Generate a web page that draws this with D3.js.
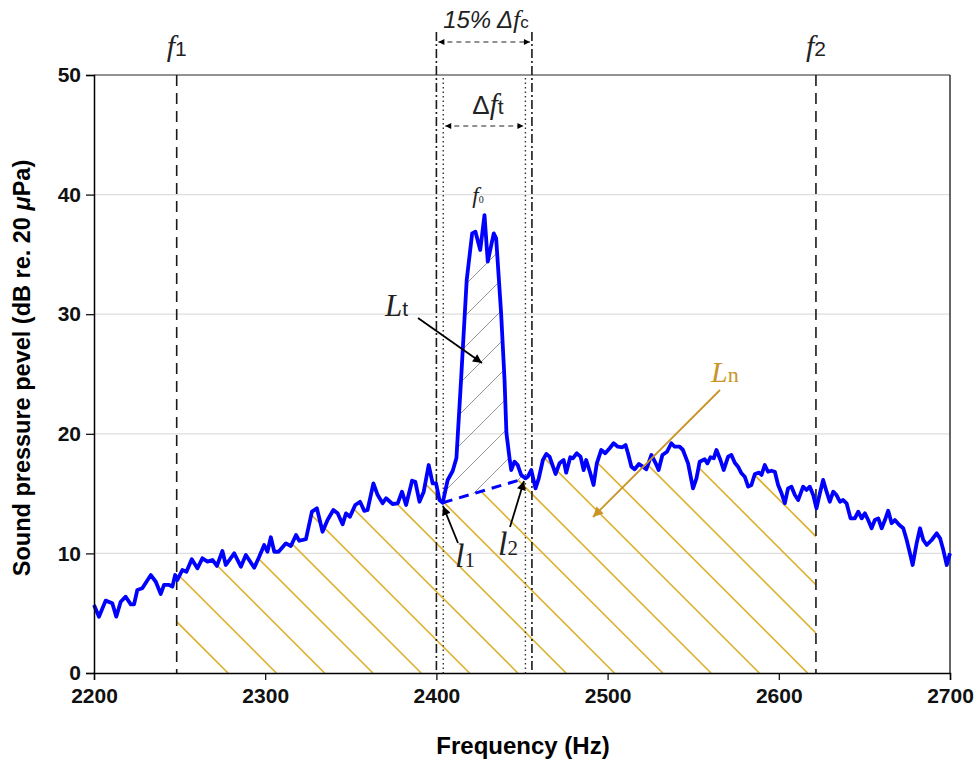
<!DOCTYPE html>
<html>
<head>
<meta charset="utf-8">
<script src="https://cdn.jsdelivr.net/npm/d3@7"></script>
<style>
  body { margin: 0; background: #fff; }
  svg { display: block; }
</style>
</head>
<body>
<div class="canvas"></div>
<script>
// spectrum (Hz, dB)
const freq = [2200, 2202.9, 2206.8, 2210.7, 2213.0, 2215.6, 2218.5, 2221.5, 2223.4, 2225.3, 2228.2, 2233.2, 2236.1, 2239.0, 2240.9, 2243.9, 2245.8, 2247.4, 2248.7, 2251.6,
  2254.0, 2257.1, 2260.4, 2263.3, 2266.3, 2269.2, 2271.8, 2275.0, 2277.0, 2281.9, 2285.8, 2288.7, 2293.6, 2296.5, 2299.4, 2301.3, 2303.3, 2305.3, 2307.8, 2312.1,
  2315.0, 2318.0, 2319.9, 2323.8, 2327.3, 2330.2, 2333.5, 2336.4, 2339.8, 2342.3, 2345.2, 2347.2, 2349.5, 2352.6, 2355.4, 2357.9, 2359.8, 2363.2, 2365.7, 2368.6,
  2370.6, 2374.4, 2377.4, 2379.9, 2382.3, 2385.8, 2387.7, 2390.1, 2392.6, 2395.5, 2397.8, 2399.8, 2401.8, 2403.7, 2406.6, 2409.5, 2411.7, 2414.4, 2417.7, 2420.9,
  2422.8, 2425.6, 2428.1, 2430.0, 2433.5, 2434.9, 2437.8, 2439.8, 2440.9, 2442.7, 2443.7, 2445.6, 2447.5, 2449.5, 2452.0, 2453.4, 2455.4, 2457.9, 2459.8, 2462.2,
  2464.2, 2466.1, 2469.6, 2471.9, 2474.3, 2475.8, 2478.2, 2479.7, 2482.0, 2484.2, 2486.0, 2487.5, 2489.9, 2491.8, 2493.7, 2496.3, 2498.6, 2501.2, 2503.5, 2506.0,
  2508.6, 2510.5, 2511.9, 2513.9, 2515.8, 2518.3, 2520.6, 2522.6, 2525.6, 2528.1, 2529.8, 2532.0, 2534.7, 2537.2, 2539.2, 2542.1, 2544.0, 2547.0, 2549.9, 2551.9,
  2553.8, 2556.7, 2558.3, 2560.1, 2562.0, 2563.6, 2565.9, 2567.8, 2570.4, 2572.3, 2574.3, 2576.2, 2578.2, 2580.1, 2582.1, 2584.0, 2586.0, 2588.5, 2589.9, 2591.8,
  2593.7, 2595.7, 2597.7, 2599.6, 2601.6, 2603.5, 2605.4, 2607.4, 2609.4, 2611.3, 2614.2, 2616.2, 2618.1, 2620.1, 2622.0, 2624.0, 2625.9, 2627.9, 2629.8, 2631.8,
  2633.7, 2635.7, 2637.6, 2639.6, 2641.9, 2644.4, 2646.4, 2648.4, 2650.3, 2652.2, 2654.2, 2656.1, 2658.1, 2660.1, 2662.0, 2663.9, 2665.9, 2667.8, 2670.4, 2672.7,
  2674.7, 2676.6, 2678.2, 2680.5, 2682.5, 2684.4, 2686.4, 2689.3, 2692.2, 2694.2, 2696.1, 2698.1, 2700];
const spl = [5.69, 4.71, 6.05, 5.83, 4.71, 5.96, 6.38, 5.74, 5.74, 6.94, 7.08, 8.19, 7.63, 6.61, 7.36, 7.36, 7.22, 8.19, 7.78, 8.61,
  8.47, 9.51, 8.75, 9.59, 9.31, 9.45, 8.95, 10.20, 9.03, 10.01, 8.89, 9.87, 8.80, 9.72, 10.70, 10.14, 11.35, 10.14, 10.14, 10.84,
  10.62, 11.54, 11.06, 11.20, 13.49, 13.77, 11.81, 12.79, 13.63, 13.35, 12.43, 13.35, 13.07, 14.05, 14.32, 13.55, 13.63, 15.86, 14.88, 14.19,
  14.61, 14.13, 14.19, 15.16, 14.05, 16.08, 15.99, 14.32, 15.16, 17.39, 15.86, 15.86, 14.46, 14.24, 16.14, 16.89, 17.98, 24.50, 32.86, 36.76,
  36.90, 35.37, 38.29, 34.39, 36.76, 36.35, 30.10, 24.50, 20.07, 17.98, 16.97, 17.67, 17.39, 16.56, 16.28, 16.41, 16.97, 15.44, 16.28, 17.81,
  18.31, 18.09, 16.64, 17.53, 17.81, 16.75, 18.04, 17.95, 18.37, 18.09, 16.97, 17.81, 16.70, 15.72, 17.53, 18.65, 18.37, 18.79, 19.21, 18.92,
  18.87, 19.06, 18.37, 17.25, 17.03, 17.47, 17.25, 17.03, 18.23, 17.53, 16.97, 18.23, 18.50, 19.21, 18.92, 18.92, 18.65, 17.53, 15.44, 16.28,
  17.67, 17.87, 17.53, 18.04, 17.95, 18.65, 17.81, 16.97, 18.09, 18.23, 17.58, 17.25, 16.70, 16.41, 15.58, 15.72, 16.64, 16.75, 16.56, 17.39,
  16.83, 16.91, 16.83, 15.72, 15.03, 14.19, 15.44, 15.58, 14.88, 14.46, 15.58, 15.30, 15.58, 14.88, 13.77, 15.03, 16.14, 15.16, 14.32, 15.16,
  14.88, 14.32, 14.46, 14.19, 12.93, 12.93, 13.49, 12.93, 13.35, 12.79, 12.10, 12.79, 12.93, 12.10, 12.79, 13.57, 12.52, 12.79, 12.37, 12.10,
  11.12, 10.01, 9.03, 10.84, 12.10, 11.12, 10.70, 11.12, 11.68, 11.26, 10.28, 9.03, 10.01];

const xTicks = [2200, 2300, 2400, 2500, 2600, 2700];
const yTicks = [0, 10, 20, 30, 40, 50];

// band edges (Hz)
const f1 = 2248.3, f2 = 2621.7;
const fcBand = [2400, 2455.8];   // 15% critical band
const ftBand = [2404, 2452];     // tone band
const l1 = { f: 2403.7, L: 14.24 };
const l2 = { f: 2452.0, L: 16.28 };

const SANS = '"Liberation Sans", Arial, Helvetica, sans-serif';
const SERIF = '"Liberation Serif", "Times New Roman", serif';
const GOLD = '#ddb12e';
const GOLD_DARK = '#c99527';

const svg = d3.select('.canvas')
  .append('svg')
  .attr('width', 974)
  .attr('height', 762);

const x = d3.scaleLinear().domain([2200, 2700]).range([94, 950]);
const y = d3.scaleLinear().domain([0, 50]).range([673, 75]);

const pts = d3.zip(freq, spl).map(([f, L]) => ({ f, L }));

// linear lookup on the curve
function levelAt(f) {
  const i = d3.bisector(d => d.f).right(pts, f) - 1;
  const a = pts[i], b = pts[i + 1];
  return a.L + (b.L - a.L) * (f - a.f) / (b.f - a.f);
}

const defs = svg.append('defs');

function addMarker(id, color, w, h) {
  defs.append('marker')
    .attr('id', id)
    .attr('viewBox', '0 0 10 10')
    .attr('refX', 10).attr('refY', 5)
    .attr('markerWidth', w).attr('markerHeight', h)
    .attr('markerUnits', 'userSpaceOnUse')
    .attr('orient', 'auto-start-reverse')
    .append('path')
    .attr('d', 'M0,0 L10,5 L0,10 z')
    .attr('fill', color);
}
addMarker('arr', '#000', 12, 9);
addMarker('arrGold', GOLD_DARK, 13, 10);
addMarker('arrSmall', '#000', 7, 6);

// gridlines
svg.append('g')
  .selectAll('line')
  .data(yTicks.filter(v => v > 0 && v < 50))
  .join('line')
  .attr('x1', x(2200)).attr('x2', x(2700))
  .attr('y1', d => y(d)).attr('y2', d => y(d))
  .attr('stroke', '#dedede')
  .attr('stroke-width', 1.2);

// hatched area under the noise (gold)
const curve = d3.line().x(d => x(d.f)).y(d => y(d.L));
const goldPoly = [
  { f: f1, L: 0 }, { f: f1, L: levelAt(f1) },
  ...pts.filter(p => p.f > f1 && p.f < l1.f),
  l1, l2,
  ...pts.filter(p => p.f > l2.f && p.f < f2),
  { f: f2, L: levelAt(f2) }, { f: f2, L: 0 }
];
defs.append('clipPath').attr('id', 'clipGold')
  .append('path').attr('d', curve(goldPoly) + 'Z');

const greyPoly = pts.filter(p => p.f >= l1.f && p.f <= l2.f);
defs.append('clipPath').attr('id', 'clipGrey')
  .append('path').attr('d', curve(greyPoly) + 'Z');

const yTop = y(50), yBot = y(0);
const goldOffsets = d3.range(16).map(k => -445 + 48.3 * k);
svg.append('g')
  .attr('clip-path', 'url(#clipGold)')
  .selectAll('line')
  .data(goldOffsets)
  .join('line')
  .attr('x1', c => c + yTop).attr('y1', yTop)
  .attr('x2', c => c + yBot).attr('y2', yBot)
  .attr('stroke', GOLD)
  .attr('stroke-width', 1.6);

const greyOffsets = d3.range(0, 10).map(k => 750 + 31 * k);
svg.append('g')
  .attr('clip-path', 'url(#clipGrey)')
  .selectAll('line')
  .data(greyOffsets)
  .join('line')
  .attr('x1', c => c - yTop).attr('y1', yTop)
  .attr('x2', c => c - yBot).attr('y2', yBot)
  .attr('stroke', '#8a8a8a')
  .attr('stroke-width', 0.9);

// frame: top and right edges
svg.append('line')
  .attr('x1', x(2200)).attr('x2', x(2700)).attr('y1', y(50)).attr('y2', y(50))
  .attr('stroke', '#6e6e6e').attr('stroke-width', 1.5);
svg.append('line')
  .attr('x1', x(2700)).attr('x2', x(2700)).attr('y1', y(50)).attr('y2', y(0))
  .attr('stroke', '#333').attr('stroke-width', 1.5);

// vertical band markers
const vlines = svg.append('g');
[f1, f2].forEach(f => {
  vlines.append('line')
    .attr('x1', x(f)).attr('x2', x(f)).attr('y1', y(50)).attr('y2', y(0))
    .attr('stroke', '#1a1a1a').attr('stroke-width', 1.6)
    .attr('stroke-dasharray', '11 7');
});
fcBand.forEach(f => {
  vlines.append('line')
    .attr('x1', x(f)).attr('x2', x(f)).attr('y1', 32).attr('y2', y(0))
    .attr('stroke', '#1a1a1a').attr('stroke-width', 1.6)
    .attr('stroke-dasharray', '9 3 2 3');
});
ftBand.forEach(f => {
  vlines.append('line')
    .attr('x1', x(f)).attr('x2', x(f)).attr('y1', 78).attr('y2', y(0))
    .attr('stroke', '#333').attr('stroke-width', 1.4)
    .attr('stroke-dasharray', '1.5 3');
});

// dimension arrows
svg.append('line')
  .attr('x1', x(fcBand[0]) + 2).attr('x2', x(fcBand[1]) - 2)
  .attr('y1', 42).attr('y2', 42)
  .attr('stroke', '#222').attr('stroke-width', 1.2)
  .attr('stroke-dasharray', '5 4')
  .attr('marker-start', 'url(#arrSmall)').attr('marker-end', 'url(#arrSmall)');
svg.append('line')
  .attr('x1', x(ftBand[0]) + 2).attr('x2', x(ftBand[1]) - 2)
  .attr('y1', 126).attr('y2', 126)
  .attr('stroke', '#222').attr('stroke-width', 1.2)
  .attr('stroke-dasharray', '5 4')
  .attr('marker-start', 'url(#arrSmall)').attr('marker-end', 'url(#arrSmall)');

// spectrum
svg.append('path')
  .datum(pts)
  .attr('d', curve)
  .attr('fill', 'none')
  .attr('stroke', '#0000ff')
  .attr('stroke-width', 3.8)
  .attr('stroke-linejoin', 'round');

// line between l1 and l2
svg.append('line')
  .attr('x1', x(l1.f)).attr('y1', y(l1.L))
  .attr('x2', x(l2.f)).attr('y2', y(l2.L))
  .attr('stroke', '#0000ff').attr('stroke-width', 3)
  .attr('stroke-dasharray', '10 7');

// axes
const yAxis = svg.append('g')
  .attr('transform', `translate(${x(2200)},0)`)
  .call(d3.axisLeft(y).tickValues(yTicks).tickSize(8).tickPadding(5));
const xAxis = svg.append('g')
  .attr('transform', `translate(0,${y(0)})`)
  .call(d3.axisBottom(x).tickValues(xTicks).tickFormat(d3.format('d')).tickSize(7).tickPadding(8));
[yAxis, xAxis].forEach(g => {
  g.select('.domain').attr('stroke', '#000').attr('stroke-width', 1.5);
  g.selectAll('.tick line').attr('stroke', '#000').attr('stroke-width', 1.2);
  g.selectAll('.tick text')
    .attr('font-family', SANS).attr('font-weight', 'bold')
    .attr('font-size', 21).attr('fill', '#111');
});

svg.append('text')
  .attr('x', 523).attr('y', 754)
  .attr('text-anchor', 'middle')
  .attr('font-family', SANS).attr('font-weight', 'bold').attr('font-size', 24)
  .text('Frequency (Hz)');

const yTitle = svg.append('text')
  .attr('transform', 'translate(30,368) rotate(-90)')
  .attr('text-anchor', 'middle')
  .attr('font-family', SANS).attr('font-weight', 'bold').attr('font-size', 23.5);
yTitle.append('tspan').text('Sound pressure pevel (dB re. 20 ');
yTitle.append('tspan').attr('font-style', 'italic').text('\u03bc');
yTitle.append('tspan').text('Pa)');

// math-style labels
function mathLabel(px, py, parts, anchor, color) {
  const t = svg.append('text')
    .attr('x', px).attr('y', py)
    .attr('text-anchor', anchor || 'start')
    .attr('fill', color || '#222');
  parts.forEach(p => {
    t.append('tspan')
      .attr('font-family', p.serif ? SERIF : SANS)
      .attr('font-style', p.italic ? 'italic' : 'normal')
      .attr('font-size', p.size)
      .text(p.s);
  });
  return t;
}

mathLabel(x(f1), 56, [{ s: 'f', serif: true, italic: true, size: 30 }, { s: '1', size: 21 }], 'middle');
mathLabel(x(f2), 56, [{ s: 'f', serif: true, italic: true, size: 30 }, { s: '2', size: 21 }], 'middle');
mathLabel(486, 28, [
  { s: '15% \u0394', italic: true, size: 24 },
  { s: 'f', serif: true, italic: true, size: 26 },
  { s: 'c', size: 17 }
], 'middle');
mathLabel(488, 114, [
  { s: '\u0394', size: 26 },
  { s: 'f', serif: true, italic: true, size: 29 },
  { s: 't', size: 21 }
], 'middle');
mathLabel(478, 203, [
  { s: 'f', serif: true, italic: true, size: 23 },
  { s: '0', serif: true, size: 10 }
], 'middle');
mathLabel(385, 316, [
  { s: 'L', serif: true, italic: true, size: 31 },
  { s: 't', size: 21 }
]);
mathLabel(711, 382, [
  { s: 'L', serif: true, italic: true, size: 30 },
  { s: 'n', serif: true, size: 22 }
], 'start', GOLD_DARK);
mathLabel(455, 567, [
  { s: 'l', serif: true, italic: true, size: 34 },
  { s: '1', serif: true, size: 21 }
]);
mathLabel(498, 555, [
  { s: 'l', serif: true, italic: true, size: 34 },
  { s: '2', serif: true, size: 21 }
]);

// pointer arrows
const arrows = [
  { x1: 418, y1: 318, x2: 482, y2: 363, color: '#000', m: 'arr' },
  { x1: 458, y1: 543, x2: 443, y2: 506, color: '#000', m: 'arr' },
  { x1: 510, y1: 527, x2: 524, y2: 481, color: '#000', m: 'arr' },
  { x1: 720, y1: 390, x2: 593, y2: 517, color: GOLD_DARK, m: 'arrGold' }
];
svg.append('g')
  .selectAll('line')
  .data(arrows)
  .join('line')
  .attr('x1', d => d.x1).attr('y1', d => d.y1)
  .attr('x2', d => d.x2).attr('y2', d => d.y2)
  .attr('stroke', d => d.color)
  .attr('stroke-width', 1.8)
  .attr('marker-end', d => `url(#${d.m})`);
</script>
</body>
</html>
